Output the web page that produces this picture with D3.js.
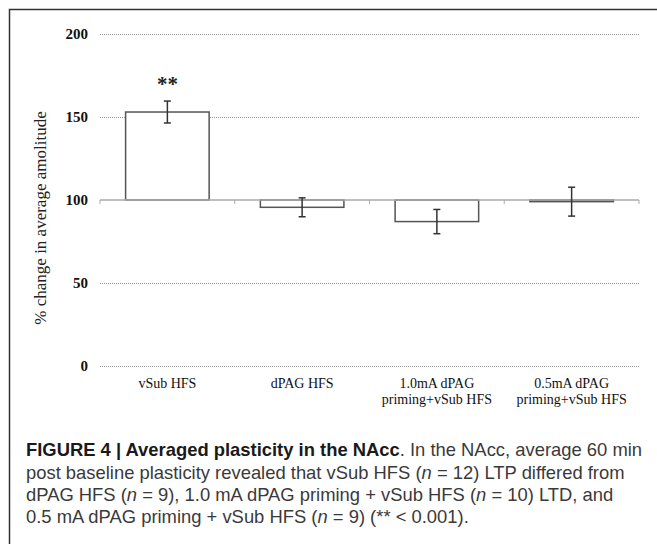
<!DOCTYPE html>
<html>
<head>
<meta charset="utf-8">
<script src="https://cdn.jsdelivr.net/npm/d3@7"></script>
<style>
  body { margin: 0; background: #fff; }
  .caption { font-family: "Liberation Sans", Arial, sans-serif; font-size: 18.4px; fill: #3a3a3a; }
</style>
</head>
<body>
<div id="chart"></div>
<script>
// data
var groups = ["vSub HFS", "dPAG HFS", "1.0mA dPAG\npriming+vSub HFS", "0.5mA dPAG\npriming+vSub HFS"];
var means = [153, 95.6, 87, 99];
var errs = [6.6, 5.7, 7.3, 8.7];
var yTicks = [0, 50, 100, 150, 200];
var stars = ["**", "", "", ""];

var W = 657, H = 544;
var margin = {top: 34, left: 100, right: 18, bottom: 178};

var svg = d3.select("#chart").append("svg")
  .attr("width", W).attr("height", H);

// frame around the figure (runs off right/bottom)
svg.append("path")
  .attr("d", "M9.5," + H + "V9.5H" + W)
  .attr("fill", "none").attr("stroke", "#333").attr("stroke-width", 1.5);

var x = d3.scaleBand()
  .domain(groups)
  .range([margin.left, W - margin.right])
  .paddingInner(0).paddingOuter(0);

var y = d3.scaleLinear()
  .domain([0, 200])
  .range([H - margin.bottom, margin.top]);

// dotted gridlines
svg.append("g").selectAll("line")
  .data(yTicks.filter(function(d) { return d != 100; }))
  .enter().append("line")
  .attr("x1", margin.left).attr("x2", W - margin.right)
  .attr("y1", function(d) { return y(d) + 0.5; })
  .attr("y2", function(d) { return y(d) + 0.5; })
  .attr("stroke", "#999").attr("stroke-width", 1)
  .attr("stroke-dasharray", "1,1");

// y tick labels
svg.append("g").selectAll("text")
  .data(yTicks)
  .enter().append("text")
  .attr("x", 88)
  .attr("y", function(d) { return y(d); })
  .attr("dy", "0.35em")
  .attr("text-anchor", "end")
  .style("font-family", "'Liberation Serif', 'Times New Roman', serif")
  .style("font-size", "15px")
  .style("font-weight", "bold")
  .attr("fill", "#111")
  .text(function(d) { return d; });

// y title
svg.append("text")
  .attr("transform", "translate(46," + ((y(0) + y(200)) / 2 + 18) + ") rotate(-90)")
  .attr("text-anchor", "middle")
  .style("font-family", "'Liberation Serif', 'Times New Roman', serif")
  .style("font-size", "17px")
  .attr("fill", "#222")
  .text("% change in average amolitude");

var barW = x.bandwidth() * 0.62;
var cx = function(d, i) { return x(groups[i]) + x.bandwidth() / 2; };

// bars drawn from the 100 baseline
svg.append("g").selectAll("rect")
  .data(means)
  .enter().append("rect")
  .attr("x", function(d, i) { return cx(d, i) - barW / 2; })
  .attr("y", function(d) { return Math.min(y(d), y(100)); })
  .attr("width", barW)
  .attr("height", function(d) { return Math.abs(y(d) - y(100)); })
  .attr("fill", "#fff")
  .attr("stroke", "#555").attr("stroke-width", 1.5);

// x axis line at 100
var ax = svg.append("g").attr("transform", "translate(0," + y(100) + ")");
ax.append("line")
  .attr("x1", margin.left).attr("x2", W - margin.right)
  .attr("stroke", "#aaa").attr("stroke-width", 1.5);
ax.selectAll(".tk")
  .data(d3.range(groups.length + 1))
  .enter().append("line")
  .attr("class", "tk")
  .attr("x1", function(i) { return margin.left + i * x.step(); })
  .attr("x2", function(i) { return margin.left + i * x.step(); })
  .attr("y1", 0).attr("y2", 4)
  .attr("stroke", "#aaa").attr("stroke-width", 1);

// error bars
var eb = svg.append("g").attr("stroke", "#333").attr("stroke-width", 1.5);
means.forEach(function(m, i) {
  var c = cx(m, i);
  eb.append("line").attr("x1", c).attr("x2", c)
    .attr("y1", y(m + errs[i])).attr("y2", y(m - errs[i]));
  eb.append("line").attr("x1", c - 3.5).attr("x2", c + 3.5)
    .attr("y1", y(m + errs[i])).attr("y2", y(m + errs[i]));
  eb.append("line").attr("x1", c - 3.5).attr("x2", c + 3.5)
    .attr("y1", y(m - errs[i])).attr("y2", y(m - errs[i]));
});

// significance stars
svg.append("g").selectAll("text")
  .data(stars)
  .enter().append("text")
  .attr("x", function(d, i) { return cx(0, i); })
  .attr("y", 91)
  .attr("text-anchor", "middle")
  .style("font-family", "'Liberation Serif', 'Times New Roman', serif")
  .style("font-size", "21px")
  .style("font-weight", "bold")
  .attr("fill", "#222")
  .text(function(d) { return d; });

// category labels
var xl = svg.append("g").selectAll("text")
  .data(groups)
  .enter().append("text")
  .attr("x", function(d) { return x(d) + x.bandwidth() / 2; })
  .attr("y", 388)
  .attr("text-anchor", "middle")
  .style("font-family", "'Liberation Serif', 'Times New Roman', serif")
  .style("font-size", "14px")
  .attr("fill", "#111");
xl.selectAll("tspan")
  .data(function(d) { return d.split("\n"); })
  .enter().append("tspan")
  .attr("x", function() { return d3.select(this.parentNode).attr("x"); })
  .attr("dy", function(d, i) { return i ? 16 : 0; })
  .text(function(d) { return d; });

// caption
var cap = svg.append("text").attr("class", "caption").attr("x", 26).attr("y", 456);
cap.append("tspan").style("font-weight", "bold").attr("fill", "#1a1a1a")
  .text("FIGURE 4 | Averaged plasticity in the NAcc");
cap.append("tspan").text(". In the NAcc, average 60 min");

var l2 = svg.append("text").attr("class", "caption").attr("x", 26).attr("y", 479);
l2.append("tspan").text("post baseline plasticity revealed that vSub HFS (");
l2.append("tspan").style("font-style", "italic").text("n");
l2.append("tspan").text(" = 12) LTP differed from");

var l3 = svg.append("text").attr("class", "caption").attr("x", 26).attr("y", 501);
l3.append("tspan").text("dPAG HFS (");
l3.append("tspan").style("font-style", "italic").text("n");
l3.append("tspan").text(" = 9), 1.0 mA dPAG priming + vSub HFS (");
l3.append("tspan").style("font-style", "italic").text("n");
l3.append("tspan").text(" = 10) LTD, and");

var l4 = svg.append("text").attr("class", "caption").attr("x", 26).attr("y", 523);
l4.append("tspan").text("0.5 mA dPAG priming + vSub HFS (");
l4.append("tspan").style("font-style", "italic").text("n");
l4.append("tspan").text(" = 9) (** < 0.001).");
</script>
</body>
</html>
